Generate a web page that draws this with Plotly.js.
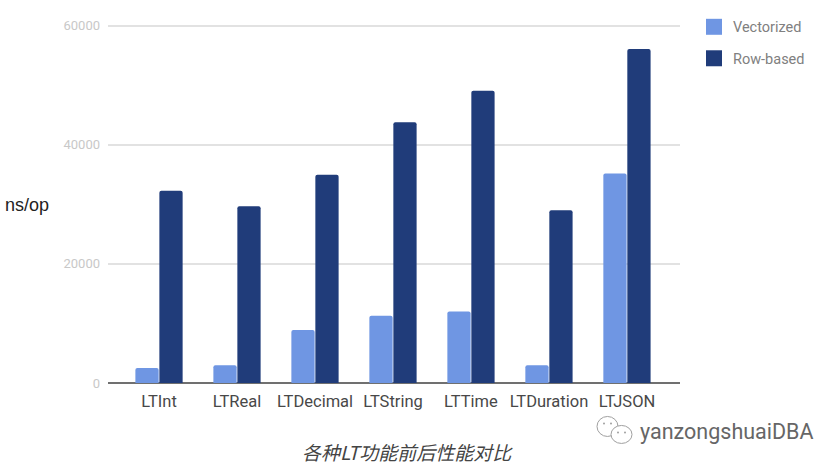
<!DOCTYPE html>
<html>
<head>
<meta charset="utf-8">
<script src="https://cdn.plot.ly/plotly-3.0.1.min.js"></script>
<style>html,body{margin:0;padding:0;background:#fff}</style>
</head>
<body>
<div id="chart" style="width:831px;height:470px"></div>
<script>
const categories = ["LTInt", "LTReal", "LTDecimal", "LTString", "LTTime", "LTDuration", "LTJSON"];
const seriesNames = ["Vectorized", "Row-based"];
const seriesColors = ["#6f96e3", "#203c7a"];
const vectorized = [2500, 3000, 8900, 11300, 12000, 3000, 35200];
const rowBased = [32300, 29700, 35000, 43800, 49100, 29000, 56100];
const yTicks = [0, 20000, 40000, 60000];

const traces = [vectorized, rowBased].map((values, i) => ({
  type: "bar",
  name: seriesNames[i],
  x: categories,
  y: values,
  marker: { color: seriesColors[i], cornerradius: 2 },
}));

// page pixels to paper coordinates, for the legend, the logo and the notes
const plotLeft = 108, plotWidth = 572, plotTop = 24.2, plotHeight = 359.3;
const px = (v) => (v - plotLeft) / plotWidth;
const py = (v) => (plotTop + plotHeight - v) / plotHeight;

function box(type, x0, y0, x1, y1, fill, line) {
  return {
    type: type, xref: "paper", yref: "paper",
    x0: px(x0), y0: py(y1), x1: px(x1), y1: py(y0),
    fillcolor: fill, line: line || { width: 0 },
  };
}

function note(x, y, anchor, text, font) {
  return { xref: "paper", yref: "paper", x: px(x), y: py(y), xanchor: anchor, yanchor: "middle", showarrow: false, text: text, font: font };
}

const logoLine = { color: "#a0a0a0", width: 1 };

const legendShapes = seriesNames.map((name, i) =>
  box("rect", 706, 19 + i * 31.5, 722, 35 + i * 31.5, seriesColors[i])
);
const legendNotes = seriesNames.map((name, i) =>
  note(731, 28 + i * 31.5, "left", name, { size: 14.5, color: "#808080", family: "Roboto, sans-serif" })
);

const layout = {
  width: 831,
  height: 470,
  margin: { l: plotLeft, r: 831 - plotLeft - plotWidth, t: plotTop, b: 470 - plotTop - plotHeight, pad: 0 },
  paper_bgcolor: "#fff",
  plot_bgcolor: "#fff",
  font: { family: "Roboto, sans-serif" },
  showlegend: false,
  barmode: "group",
  bargap: 0.385,
  bargroupgap: 0.03,
  xaxis: {
    type: "category",
    range: [-0.654, 6.68],
    showgrid: false,
    ticks: "",
    ticklabelstandoff: 6,
    tickfont: { size: 16.5, color: "#484848" },
  },
  yaxis: {
    range: [0, 60300],
    tickvals: yTicks,
    ticktext: yTicks.map(String),
    gridcolor: "#e2e2e2",
    gridwidth: 1.5,
    zeroline: true,
    zerolinecolor: "#707070",
    zerolinewidth: 2,
    ticks: "",
    ticklabelstandoff: 7,
    tickfont: { size: 13, color: "#c8c8c8" },
  },
  annotations: [
    note(3, 205, "left", "ns/op", { size: 18, color: "#222", family: "Liberation Sans, sans-serif" }),
    note(407, 452, "center", "<i>各种LT功能前后性能对比</i>", { size: 19, color: "#444", family: "Noto Sans CJK SC, sans-serif" }),
    note(638, 432, "left", "yanzongshuaiDBA", { size: 21.5, color: "#666", family: "Roboto, sans-serif" }),
    ...legendNotes,
  ],
  shapes: [
    ...legendShapes,
    box("circle", 597, 417, 618, 437, "#fff", logoLine),
    box("circle", 611, 426, 632, 444, "#fff", logoLine),
    box("circle", 603, 423, 605, 425, "#a0a0a0"),
    box("circle", 610, 423, 612, 425, "#a0a0a0"),
    box("circle", 617, 432, 619, 434, "#a0a0a0"),
    box("circle", 624, 432, 626, 434, "#a0a0a0"),
  ],
};

Plotly.newPlot("chart", traces, layout, { displayModeBar: false, responsive: false });
</script>
</body>
</html>
